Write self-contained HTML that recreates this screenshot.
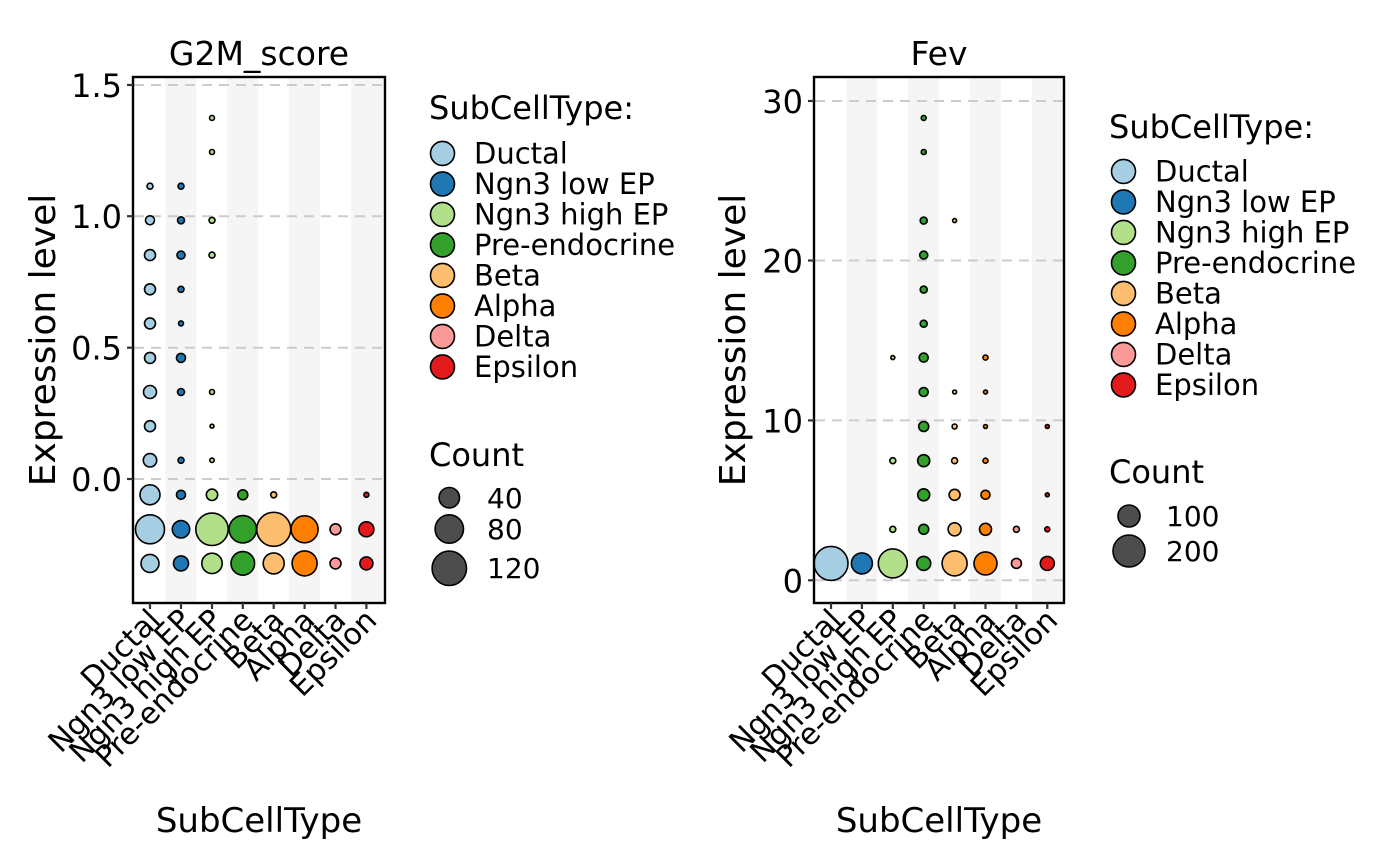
<!DOCTYPE html>
<html><head><meta charset="utf-8"><style>
html,body{margin:0;padding:0;background:#fff;}
svg{display:block;font-family:"DejaVu Sans","Liberation Sans",sans-serif;}
.g{stroke:#cccccc;stroke-width:2;stroke-dasharray:10,7;}
circle{stroke:#000;stroke-width:1.6;}
.t{font-size:32px;fill:#000;}
.x{font-size:30px;fill:#000;}
.l{font-size:29px;}
.c{font-size:28px;}
</style></head><body>
<svg width="1400" height="866" viewBox="0 0 1400 866">
<!-- LEFT PANEL -->
<rect x="133" y="77" width="252" height="526" fill="#fff"/>
<g fill="#f5f5f5">
<rect x="165.5" y="77" width="30.9" height="526"/>
<rect x="227.3" y="77" width="30.9" height="526"/>
<rect x="289.1" y="77" width="30.9" height="526"/>
<rect x="350.9" y="77" width="34.1" height="526"/>
</g>
<g class="g"><line x1="134" x2="384" y1="85" y2="85"/><line x1="134" x2="384" y1="216.2" y2="216.2"/><line x1="134" x2="384" y1="347.7" y2="347.7"/><line x1="134" x2="384" y1="479" y2="479"/></g>
<g>
<circle cx="212" cy="117.9" r="2.5" fill="#B2DF8A"/>
<circle cx="212" cy="152" r="2.5" fill="#B2DF8A"/>
<circle cx="150" cy="186.2" r="3" fill="#A6CEE3"/><circle cx="181" cy="186.2" r="3" fill="#1F78B4"/>
<circle cx="150" cy="220.3" r="4.5" fill="#A6CEE3"/><circle cx="181" cy="220.3" r="3.5" fill="#1F78B4"/><circle cx="212" cy="220.3" r="3" fill="#B2DF8A"/>
<circle cx="150" cy="255.1" r="5.5" fill="#A6CEE3"/><circle cx="181" cy="255.1" r="4" fill="#1F78B4"/><circle cx="212" cy="255.1" r="3" fill="#B2DF8A"/>
<circle cx="150" cy="289.3" r="5.5" fill="#A6CEE3"/><circle cx="181" cy="289.3" r="3" fill="#1F78B4"/>
<circle cx="150" cy="323.4" r="5.5" fill="#A6CEE3"/><circle cx="181" cy="323.4" r="2.5" fill="#1F78B4"/>
<circle cx="150" cy="357.9" r="5.5" fill="#A6CEE3"/><circle cx="181" cy="357.9" r="4.5" fill="#1F78B4"/>
<circle cx="150" cy="392" r="6.5" fill="#A6CEE3"/><circle cx="181" cy="392" r="3.5" fill="#1F78B4"/><circle cx="212" cy="392" r="2.5" fill="#B2DF8A"/>
<circle cx="150" cy="426.2" r="5.5" fill="#A6CEE3"/><circle cx="212" cy="426.2" r="2" fill="#B2DF8A"/>
<circle cx="150" cy="460.3" r="6.7" fill="#A6CEE3"/><circle cx="181" cy="460.3" r="3" fill="#1F78B4"/><circle cx="212" cy="460.3" r="2.2" fill="#B2DF8A"/>
<circle cx="150" cy="494.8" r="10" fill="#A6CEE3"/><circle cx="181" cy="494.8" r="4.5" fill="#1F78B4"/><circle cx="212" cy="494.8" r="5.7" fill="#B2DF8A"/><circle cx="242.8" cy="494.8" r="5" fill="#33A02C"/><circle cx="273.7" cy="494.8" r="3" fill="#FDBF6F"/><circle cx="366.4" cy="494.8" r="2.5" fill="#E31A1C"/>
<circle cx="150" cy="529.3" r="14.5" fill="#A6CEE3"/><circle cx="181" cy="529.3" r="8.7" fill="#1F78B4"/><circle cx="212" cy="529.3" r="16.2" fill="#B2DF8A"/><circle cx="242.8" cy="529.3" r="13.7" fill="#33A02C"/><circle cx="273.7" cy="529.3" r="17" fill="#FDBF6F"/><circle cx="304.6" cy="529.3" r="13.5" fill="#FF7F00"/><circle cx="335.5" cy="529.3" r="5.5" fill="#FB9A99"/><circle cx="366.4" cy="529.3" r="7.5" fill="#E31A1C"/>
<circle cx="150" cy="563.4" r="9" fill="#A6CEE3"/><circle cx="181" cy="563.4" r="7.5" fill="#1F78B4"/><circle cx="212" cy="563.4" r="10.2" fill="#B2DF8A"/><circle cx="242.8" cy="563.4" r="11.8" fill="#33A02C"/><circle cx="273.7" cy="563.4" r="10.5" fill="#FDBF6F"/><circle cx="304.6" cy="563.4" r="12.5" fill="#FF7F00"/><circle cx="335.5" cy="563.4" r="5.5" fill="#FB9A99"/><circle cx="366.4" cy="563.4" r="6.5" fill="#E31A1C"/>
</g>
<rect x="133" y="77" width="252" height="526" fill="none" stroke="#000" stroke-width="2.4"/>
<g stroke="#333" stroke-width="2.2">
<line x1="127" x2="133" y1="85" y2="85"/><line x1="127" x2="133" y1="216.2" y2="216.2"/><line x1="127" x2="133" y1="347.7" y2="347.7"/><line x1="127" x2="133" y1="479" y2="479"/>
<line x1="150" x2="150" y1="603" y2="609"/><line x1="181" x2="181" y1="603" y2="609"/><line x1="212" x2="212" y1="603" y2="609"/><line x1="242.8" x2="242.8" y1="603" y2="609"/><line x1="273.7" x2="273.7" y1="603" y2="609"/><line x1="304.6" x2="304.6" y1="603" y2="609"/><line x1="335.5" x2="335.5" y1="603" y2="609"/><line x1="366.4" x2="366.4" y1="603" y2="609"/>
</g>
<g class="t" text-anchor="end">
<text x="122" y="97">1.5</text><text x="122" y="228">1.0</text><text x="122" y="359.5">0.5</text><text x="122" y="491">0.0</text>
</g>
<g class="x" text-anchor="end">
<text transform="translate(162,622) rotate(-45)">Ductal</text>
<text transform="translate(193,622) rotate(-45)">Ngn3 low EP</text>
<text transform="translate(224,622) rotate(-45)">Ngn3 high EP</text>
<text transform="translate(254.8,622) rotate(-45)">Pre-endocrine</text>
<text transform="translate(285.7,622) rotate(-45)">Beta</text>
<text transform="translate(316.6,622) rotate(-45)">Alpha</text>
<text transform="translate(347.5,622) rotate(-45)">Delta</text>
<text transform="translate(378.4,622) rotate(-45)">Epsilon</text>
</g>
<text x="259" y="65" text-anchor="middle" font-size="33">G2M_score</text>
<text x="259" y="832" text-anchor="middle" font-size="34">SubCellType</text>
<text transform="translate(55,340) rotate(-90)" text-anchor="middle" font-size="36">Expression level</text>
<!-- left legend -->
<text x="429" y="119" font-size="32">SubCellType:</text>
<g>
<circle cx="442.5" cy="153.4" r="12" fill="#A6CEE3"/><circle cx="442.5" cy="183.9" r="12" fill="#1F78B4"/><circle cx="442.5" cy="214.4" r="12" fill="#B2DF8A"/><circle cx="442.5" cy="244.9" r="12" fill="#33A02C"/><circle cx="442.5" cy="275.4" r="12" fill="#FDBF6F"/><circle cx="442.5" cy="305.9" r="12" fill="#FF7F00"/><circle cx="442.5" cy="336.4" r="12" fill="#FB9A99"/><circle cx="442.5" cy="366.9" r="12" fill="#E31A1C"/>
</g>
<g class="l">
<text x="474" y="163.5">Ductal</text><text x="474" y="194">Ngn3 low EP</text><text x="474" y="224.5">Ngn3 high EP</text><text x="474" y="255">Pre-endocrine</text><text x="474" y="285.5">Beta</text><text x="474" y="316">Alpha</text><text x="474" y="346.5">Delta</text><text x="474" y="377">Epsilon</text>
</g>
<text x="429" y="466" font-size="32">Count</text>
<circle cx="449.3" cy="497.7" r="10.2" fill="#4d4d4d"/><circle cx="449.3" cy="529" r="14.2" fill="#4d4d4d"/><circle cx="449.3" cy="568.3" r="17.2" fill="#4d4d4d"/>
<g class="c"><text x="487" y="508">40</text><text x="487" y="539">80</text><text x="487" y="578">120</text></g>

<!-- RIGHT PANEL -->
<rect x="814" y="77" width="250" height="526" fill="#fff"/>
<g fill="#f5f5f5">
<rect x="846.4" y="77" width="30.9" height="526"/>
<rect x="908.2" y="77" width="30.9" height="526"/>
<rect x="970" y="77" width="30.9" height="526"/>
<rect x="1031.8" y="77" width="32.2" height="526"/>
</g>
<g class="g"><line x1="815" x2="1063" y1="101" y2="101"/><line x1="815" x2="1063" y1="260.5" y2="260.5"/><line x1="815" x2="1063" y1="420.4" y2="420.4"/><line x1="815" x2="1063" y1="580.3" y2="580.3"/></g>
<g>
<circle cx="923.7" cy="117.9" r="2.5" fill="#33A02C"/>
<circle cx="923.7" cy="152" r="2.5" fill="#33A02C"/>
<circle cx="923.7" cy="220.6" r="3.5" fill="#33A02C"/><circle cx="954.6" cy="220.6" r="2" fill="#FDBF6F"/>
<circle cx="923.7" cy="255.1" r="4" fill="#33A02C"/>
<circle cx="923.7" cy="289.6" r="3.5" fill="#33A02C"/>
<circle cx="923.7" cy="323.7" r="3.5" fill="#33A02C"/>
<circle cx="892.8" cy="357.6" r="2" fill="#B2DF8A"/><circle cx="923.7" cy="357.6" r="4.5" fill="#33A02C"/><circle cx="985.5" cy="357.6" r="2.5" fill="#FF7F00"/>
<circle cx="923.7" cy="392" r="4.5" fill="#33A02C"/><circle cx="954.6" cy="392" r="2" fill="#FDBF6F"/><circle cx="985.5" cy="392" r="2" fill="#FF7F00"/>
<circle cx="923.7" cy="426.5" r="5" fill="#33A02C"/><circle cx="954.6" cy="426.5" r="2.5" fill="#FDBF6F"/><circle cx="985.5" cy="426.5" r="2" fill="#FF7F00"/><circle cx="1047.3" cy="426.5" r="2" fill="#E31A1C"/>
<circle cx="892.8" cy="460.7" r="3" fill="#B2DF8A"/><circle cx="923.7" cy="460.7" r="6" fill="#33A02C"/><circle cx="954.6" cy="460.7" r="3" fill="#FDBF6F"/><circle cx="985.5" cy="460.7" r="2.5" fill="#FF7F00"/>
<circle cx="923.7" cy="494.8" r="6" fill="#33A02C"/><circle cx="954.6" cy="494.8" r="5.5" fill="#FDBF6F"/><circle cx="985.5" cy="494.8" r="4.5" fill="#FF7F00"/><circle cx="1047.3" cy="494.8" r="2" fill="#E31A1C"/>
<circle cx="892.8" cy="529.3" r="3" fill="#B2DF8A"/><circle cx="923.7" cy="529.3" r="5" fill="#33A02C"/><circle cx="954.6" cy="529.3" r="6.5" fill="#FDBF6F"/><circle cx="985.5" cy="529.3" r="6" fill="#FF7F00"/><circle cx="1016.4" cy="529.3" r="3" fill="#FB9A99"/><circle cx="1047.3" cy="529.3" r="2.5" fill="#E31A1C"/>
<circle cx="831" cy="563.4" r="17" fill="#A6CEE3"/><circle cx="861.9" cy="563.4" r="10.5" fill="#1F78B4"/><circle cx="892.8" cy="563.4" r="14.5" fill="#B2DF8A"/><circle cx="923.7" cy="563.4" r="7" fill="#33A02C"/><circle cx="954.6" cy="563.4" r="12.5" fill="#FDBF6F"/><circle cx="985.5" cy="563.4" r="11.5" fill="#FF7F00"/><circle cx="1016.4" cy="563.4" r="5" fill="#FB9A99"/><circle cx="1047.3" cy="563.4" r="7" fill="#E31A1C"/>
</g>
<rect x="814" y="77" width="250" height="526" fill="none" stroke="#000" stroke-width="2.4"/>
<g stroke="#333" stroke-width="2.2">
<line x1="808" x2="814" y1="101" y2="101"/><line x1="808" x2="814" y1="260.5" y2="260.5"/><line x1="808" x2="814" y1="420.4" y2="420.4"/><line x1="808" x2="814" y1="580.3" y2="580.3"/>
<line x1="831" x2="831" y1="603" y2="609"/><line x1="861.9" x2="861.9" y1="603" y2="609"/><line x1="892.8" x2="892.8" y1="603" y2="609"/><line x1="923.7" x2="923.7" y1="603" y2="609"/><line x1="954.6" x2="954.6" y1="603" y2="609"/><line x1="985.5" x2="985.5" y1="603" y2="609"/><line x1="1016.4" x2="1016.4" y1="603" y2="609"/><line x1="1047.3" x2="1047.3" y1="603" y2="609"/>
</g>
<g class="t" text-anchor="end">
<text x="803" y="113">30</text><text x="803" y="272.5">20</text><text x="803" y="432.4">10</text><text x="803" y="592.3">0</text>
</g>
<g class="x" text-anchor="end">
<text transform="translate(843,622) rotate(-45)">Ductal</text>
<text transform="translate(873.9,622) rotate(-45)">Ngn3 low EP</text>
<text transform="translate(904.8,622) rotate(-45)">Ngn3 high EP</text>
<text transform="translate(935.7,622) rotate(-45)">Pre-endocrine</text>
<text transform="translate(966.6,622) rotate(-45)">Beta</text>
<text transform="translate(997.5,622) rotate(-45)">Alpha</text>
<text transform="translate(1028.4,622) rotate(-45)">Delta</text>
<text transform="translate(1059.3,622) rotate(-45)">Epsilon</text>
</g>
<text x="939" y="65" text-anchor="middle" font-size="33">Fev</text>
<text x="939" y="832" text-anchor="middle" font-size="34">SubCellType</text>
<text transform="translate(745,340) rotate(-90)" text-anchor="middle" font-size="36">Expression level</text>
<!-- right legend -->
<text x="1109" y="138" font-size="32">SubCellType:</text>
<g>
<circle cx="1123.5" cy="171.4" r="12" fill="#A6CEE3"/><circle cx="1123.5" cy="201.9" r="12" fill="#1F78B4"/><circle cx="1123.5" cy="232.4" r="12" fill="#B2DF8A"/><circle cx="1123.5" cy="262.9" r="12" fill="#33A02C"/><circle cx="1123.5" cy="293.4" r="12" fill="#FDBF6F"/><circle cx="1123.5" cy="323.9" r="12" fill="#FF7F00"/><circle cx="1123.5" cy="354.4" r="12" fill="#FB9A99"/><circle cx="1123.5" cy="384.9" r="12" fill="#E31A1C"/>
</g>
<g class="l">
<text x="1155" y="181.5">Ductal</text><text x="1155" y="212">Ngn3 low EP</text><text x="1155" y="242.5">Ngn3 high EP</text><text x="1155" y="273">Pre-endocrine</text><text x="1155" y="303.5">Beta</text><text x="1155" y="334">Alpha</text><text x="1155" y="364.5">Delta</text><text x="1155" y="395">Epsilon</text>
</g>
<text x="1109" y="483" font-size="32">Count</text>
<circle cx="1129" cy="516" r="11" fill="#4d4d4d"/><circle cx="1129" cy="551" r="16" fill="#4d4d4d"/>
<g class="c"><text x="1166" y="526">100</text><text x="1166" y="561">200</text></g>
</svg>
</body></html>
